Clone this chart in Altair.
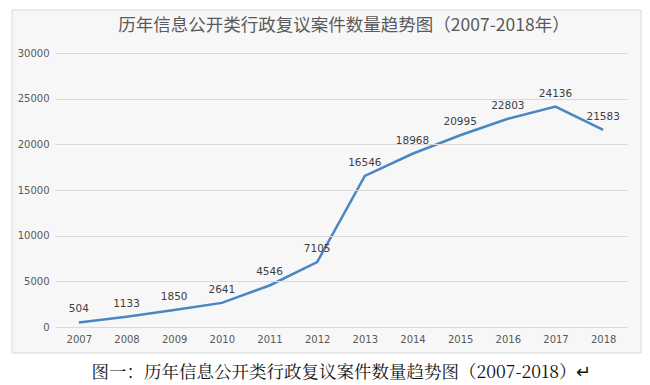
import altair as alt
import pandas as pd

years = ["2007", "2008", "2009", "2010", "2011", "2012",
         "2013", "2014", "2015", "2016", "2017", "2018"]
cases = [504, 1133, 1850, 2641, 4546, 7105, 16546, 18968, 20995, 22803, 24136, 21583]
y_ticks = [0, 5000, 10000, 15000, 20000, 25000, 30000]

title_text = "历年信息公开类行政复议案件数量趋势图（2007-2018年）"
caption_text = "图一：历年信息公开类行政复议案件数量趋势图（2007-2018）↵"

df = pd.DataFrame({"year": years, "cases": cases})

W, H = 572, 274
CJK = "Noto Sans CJK SC"
NUM = "DejaVu Sans"

panel = alt.Chart(pd.DataFrame({"k": [0]})).mark_rect(
    fill="#f7f7f7", stroke="#d9d9d9", strokeWidth=1
).encode(
    x=alt.value(-43), x2=alt.value(586),
    y=alt.value(-43), y2=alt.value(300),
)

x_enc = alt.X(
    "year:N", sort=years,
    scale=alt.Scale(type="point", padding=0.5),
    axis=alt.Axis(
        title=caption_text, titleFont=f"Noto Serif CJK SC, {CJK}", titleFontSize=17.5,
        titleFontWeight="normal", titleColor="#111111", titlePadding=19,
        labelFont=NUM, labelFontSize=10, labelColor="#595959", labelPadding=7,
        labelAngle=0, ticks=False, domain=False, grid=False, zindex=1,
    ),
)
y_enc = alt.Y(
    "cases:Q",
    scale=alt.Scale(domain=[0, 30000], nice=False),
    axis=alt.Axis(
        values=y_ticks, format="d", title=None, labelFont=NUM, labelFontSize=10,
        labelColor="#595959", labelPadding=6, ticks=False, domain=False,
        grid=True, gridColor="#d9d9d9", gridWidth=1, zindex=1,
    ),
)

line = alt.Chart(df).mark_line(
    color="#4a86c4", strokeWidth=2.5, interpolate="linear"
).encode(x=x_enc, y=y_enc)

labels = alt.Chart(df).mark_text(
    font=NUM, fontSize=10.5, color="#404040", dy=-13, baseline="middle"
).encode(x=alt.X("year:N", sort=years), y="cases:Q", text="cases:Q")

chart = alt.layer(panel, line, labels).properties(
    width=W, height=H,
    title=alt.TitleParams(
        text=title_text, font=CJK, fontSize=17.5, fontWeight="normal",
        color="#5a5a5a", anchor="middle", baseline="middle", dx=3, offset=-34,
        zindex=1,
    ),
    autosize=alt.AutoSizeParams(type="none"),
    padding={"left": 47, "top": 45, "right": 15, "bottom": 60},
    background="white",
).configure_view(stroke=None)

chart.save("out.html", embed_options={"renderer": "svg", "actions": False})
